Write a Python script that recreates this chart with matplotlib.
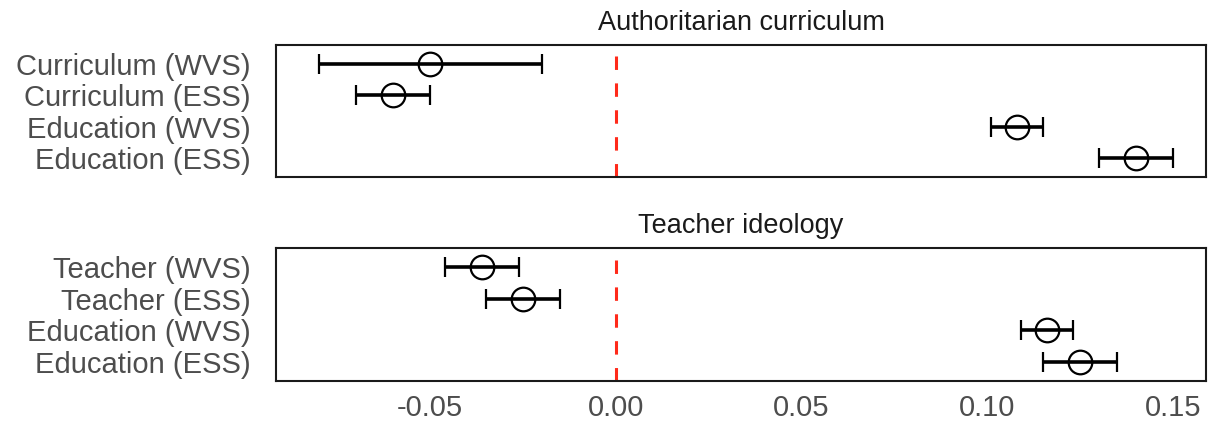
import matplotlib
matplotlib.use("Agg")
import matplotlib.pyplot as plt

# coefficient estimates and half-widths of the intervals
curr_labels = ["Curriculum (WVS)", "Curriculum (ESS)", "Education (WVS)", "Education (ESS)"]
curr_est = [-0.050, -0.060, 0.108, 0.140]
curr_err = [0.030, 0.010, 0.007, 0.010]

teach_labels = ["Teacher (WVS)", "Teacher (ESS)", "Education (WVS)", "Education (ESS)"]
teach_est = [-0.036, -0.025, 0.116, 0.125]
teach_err = [0.010, 0.010, 0.007, 0.010]

x_ticks = [-0.05, 0.00, 0.05, 0.10, 0.15]

plt.rcParams["font.family"] = ["Liberation Sans", "DejaVu Sans"]

W, H = 1214, 423
fig = plt.figure(figsize=(W / 100, H / 100), dpi=100)
ax1 = fig.add_axes([276 / W, 1 - 177 / H, 930 / W, 132 / H])
ax2 = fig.add_axes([276 / W, 1 - 381 / H, 930 / W, 133 / H])

panels = [
    (ax1, "Authoritarian curriculum", curr_labels, curr_est, curr_err),
    (ax2, "Teacher ideology", teach_labels, teach_est, teach_err),
]

for ax, title, labels, est, err in panels:
    ax.axvline(0, color="#ff2a1a", lw=2.2, dashes=(4.4, 4.4), zorder=1)
    ax.errorbar(est, labels, xerr=err, fmt="o", color="black", ms=17,
                mfc="none", mec="black", mew=1.6, elinewidth=2.6,
                capsize=7, capthick=2.6, zorder=3)
    ax.set_ylim(3.6, -0.6)
    ax.set_xlim(-0.0915, 0.1589)
    ax.set_xticks(x_ticks)
    ax.set_xticklabels(["%.2f" % t for t in x_ticks])
    ax.tick_params(axis="both", length=0, labelsize=21, labelcolor="#4d4d4d")
    ax.tick_params(axis="y", pad=18)
    ax.tick_params(axis="x", pad=9)
    ax.set_title(title, fontsize=19.5, color="#1a1a1a", pad=11)
    for s in ax.spines.values():
        s.set_linewidth(1.5)
        s.set_color("#1a1a1a")

ax1.set_xticklabels([])

fig.savefig("out.png", dpi=100, facecolor="white")
